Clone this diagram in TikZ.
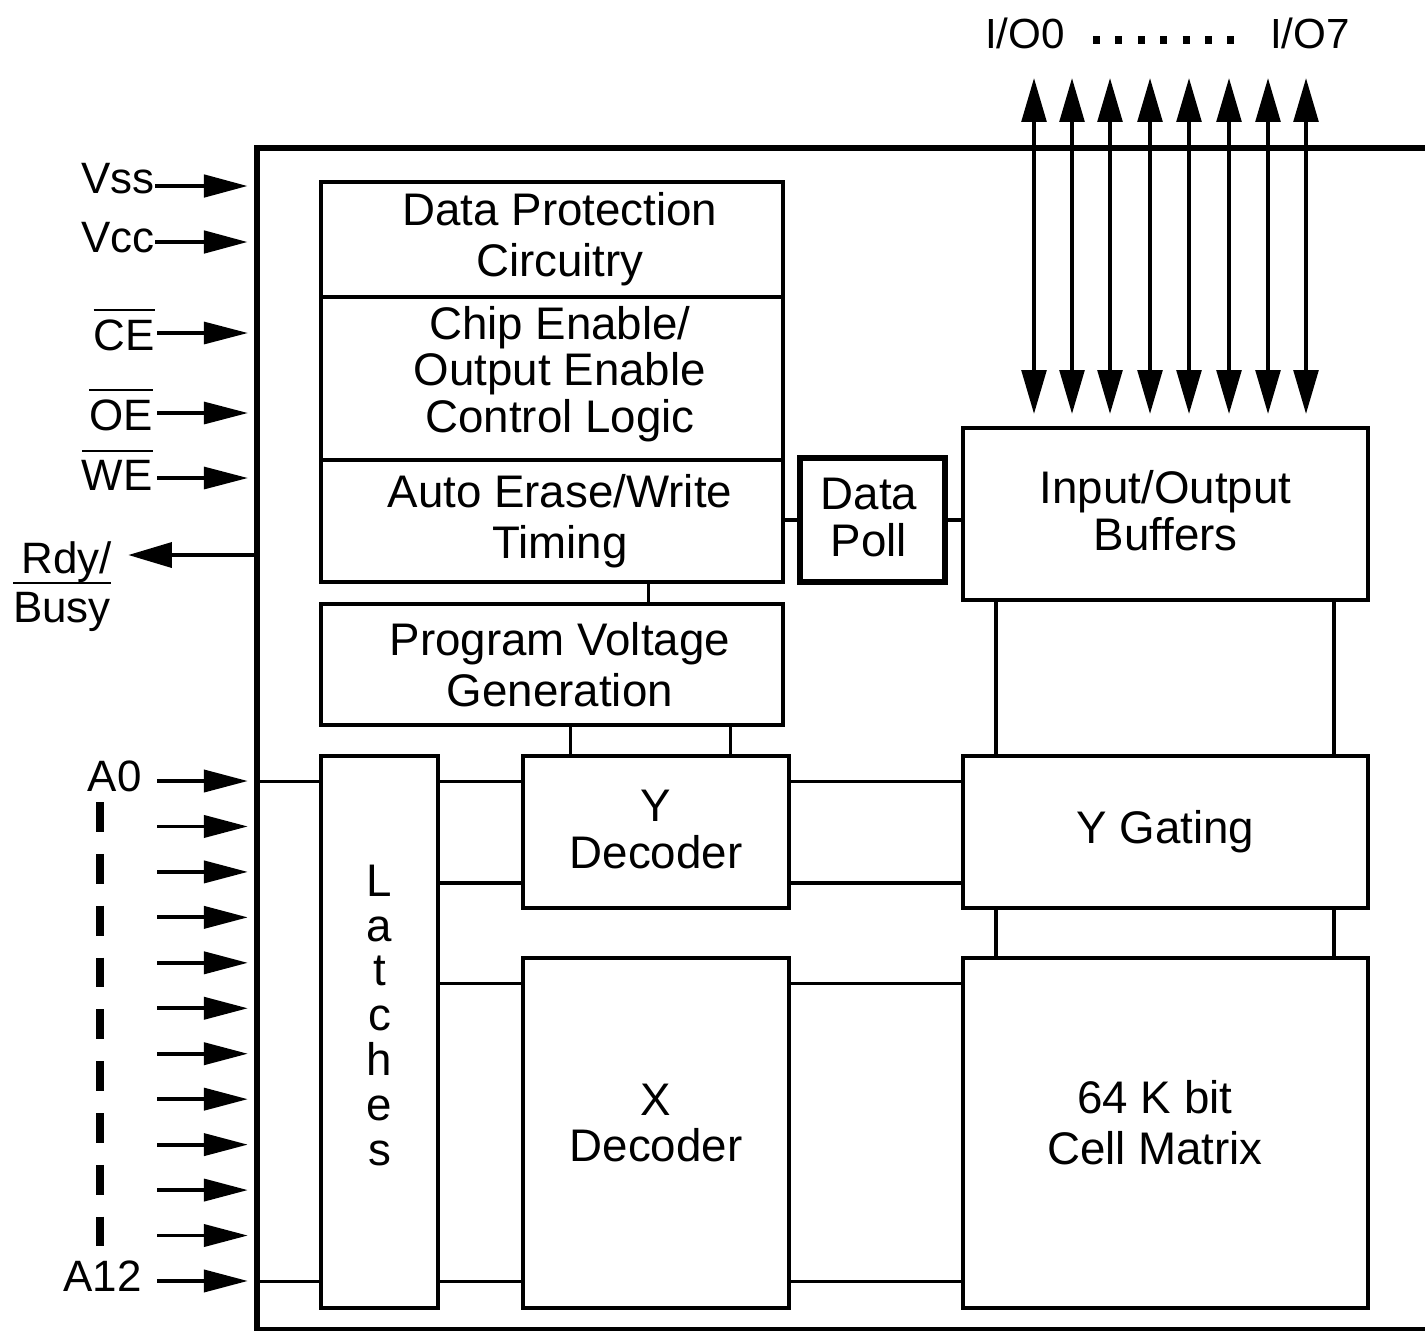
\documentclass[tikz,border=0pt]{standalone}
\usepackage{fontspec}
\setmainfont{Liberation Sans}
\usetikzlibrary{fit,arrows.meta}
\newcommand{\ovl}[1]{\vbox{\hrule height 1.2pt\kern 4.5pt\hbox{#1}}}
\newcommand{\blkA}{\fontsize{26}{29}\selectfont}
\newcommand{\blkB}{\fontsize{26}{26.6}\selectfont}
\newcommand{\latf}{\fontsize{26}{25.5}\selectfont}
\newcommand{\pinf}{\fontsize{25}{27}\selectfont}
\newcommand{\iof}{\fontsize{24}{26}\selectfont}
\begin{document}
\begin{tikzpicture}[x=0.02cm,y=-0.02cm,
  box/.style={draw,line width=2pt,inner sep=0pt},
  blk/.style={align=center,inner sep=0pt},
  wire/.style={line width=1.7pt},
  wirethick/.style={line width=2.8pt},
  pin/.style={line width=2.2pt,-{Triangle[length=25pt,width=12.5pt]},shorten >=3.5pt},
  bus/.style={line width=2.2pt,{Triangle[length=25pt,width=14pt]}-{Triangle[length=25pt,width=14pt]}},
  lab/.style={inner sep=0pt,font=\pinf}]
\useasboundingbox (0,0) rectangle (1425,1330);

% chip outline
\node[draw,line width=3.4pt,inner sep=0pt,fit={(257,148)(1500,1330)}] (chip) {};

% blocks
\node[box,fit={(321,182)(783,297)},
  label={[name=dpct,blk,font=\blkA,xshift=4.5pt]center:Data Protection\\Circuitry}] (dpc) {};
\node[box,fit={(321,297)(783,460)},
  label={[name=cect,blk,font=\blkB,xshift=4.5pt,yshift=2.5pt]center:Chip Enable/\\Output Enable\\Control Logic}] (cec) {};
\node[box,fit={(321,460)(783,582)},
  label={[name=aett,blk,font=\blkA,xshift=4.5pt]center:Auto Erase/Write\\Timing}] (aet) {};
\node[box,fit={(321,604)(783,725)},
  label={[name=pvgt,blk,font=\blkA,xshift=4.5pt]center:Program Voltage\\Generation}] (pvg) {};
\node[box,line width=3pt,fit={(800,458)(945,582)},
  label={[name=dpt,blk,font=\blkB,xshift=-2pt,yshift=1.5pt]center:Data\\Poll}] (dp) {};
\node[box,fit={(963,428)(1368,600)},
  label={[name=iobt,blk,font=\blkB,yshift=2pt]center:Input/Output\\Buffers}] (iob) {};
\node[box,fit={(963,756)(1368,908)},
  label={[name=ygtt,blk,font=\blkB]center:Y Gating}] (ygt) {};
\node[box,fit={(963,958)(1368,1308)},
  label={[name=celltxt,blk,font=\blkA,xshift=-6pt,yshift=6pt]center:64 K bit\\Cell Matrix}] (cell) {};
\node[box,fit={(321,756)(438,1308)},
  label={[name=lattxt,blk,font=\latf,yshift=9.6pt]center:L\\a\\t\\c\\h\\e\\s}] (lat) {};
\node[box,line width=2.4pt,fit={(523,756)(789,908)},
  label={[name=ydt,blk,font=\blkB,yshift=1.5pt]center:Y\\Decoder}] (ydec) {};
\node[box,line width=2.4pt,fit={(523,958)(789,1308)},
  label={[name=xdtxt,blk,font=\blkB,yshift=5.7pt]center:X\\Decoder}] (xdec) {};

% vertical connection coordinates
\coordinate (v570) at (570,0);
\coordinate (v648) at (648,0);
\coordinate (v730) at (730,0);
\coordinate (v996) at (996,0);
\coordinate (v1334) at (1334,0);
% row levels
\coordinate (L1) at (0,781);
\coordinate (L2) at (0,883);
\coordinate (L3) at (0,983);
\coordinate (L4) at (0,1281);

% internal connectors
\draw[wire] (aet.south -| v648) -- (pvg.north -| v648);
\draw[wire] (pvg.south -| v570) -- (ydec.north -| v570);
\draw[wire] (pvg.south -| v730) -- (ydec.north -| v730);
\draw[wirethick] (dp.west -| aet.east) -- (dp.west);
\draw[wirethick] (dp.east) -- (dp.east -| iob.west);
\draw[wirethick] (iob.south -| v996) -- (ygt.north -| v996);
\draw[wire,line width=2.2pt] (iob.south -| v1334) -- (ygt.north -| v1334);
\draw[wirethick] (ygt.south -| v996) -- (cell.north -| v996);
\draw[wire,line width=2.2pt] (ygt.south -| v1334) -- (cell.north -| v1334);

\draw[wire] (chip.west |- L1) -- (lat.west |- L1);
\draw[wire] (lat.east |- L1) -- (ydec.west |- L1);
\draw[wire] (ydec.east |- L1) -- (ygt.west |- L1);
\draw[wirethick] (lat.east |- L2) -- (ydec.west |- L2);
\draw[wirethick] (ydec.east |- L2) -- (ygt.west |- L2);
\draw[wire] (lat.east |- L3) -- (xdec.west |- L3);
\draw[wire] (xdec.east |- L3) -- (cell.west |- L3);
\draw[wire] (chip.west |- L4) -- (lat.west |- L4);
\draw[wire] (lat.east |- L4) -- (xdec.west |- L4);
\draw[wire] (xdec.east |- L4) -- (cell.west |- L4);

% pin labels
\node[lab,anchor=base east] (lvss) at (155,193) {Vss};
\node[lab,anchor=base east] (lvcc) at (155,252) {Vcc};
\node[lab,anchor=base east] (lce) at (155,350) {\ovl{CE}};
\node[lab,anchor=base east] (loe) at (153,430) {\ovl{OE}};
\node[lab,anchor=base east] (lwe) at (153,490) {\ovl{WE}};
\node[lab,anchor=base] (lrdy) at (67,573) {Rdy/};
\node[lab,anchor=base] (lbusy) at (62,622) {\ovl{Busy}};
\node[lab,anchor=base east] (la0) at (142,791) {A0};
\node[lab,anchor=base east] (la12) at (142,1291) {A12};

% control pins
\coordinate (pvss) at (155,186);
\coordinate (pvcc) at (155,242);
\coordinate (pce) at (157,333);
\coordinate (poe) at (157,413);
\coordinate (pwe) at (157,478);
\coordinate (rdyt) at (128,555);
\draw[pin,line width=2.8pt] (pvss) -- (pvss -| chip.west);
\draw[pin,line width=2.8pt] (pvcc) -- (pvcc -| chip.west);
\draw[pin,line width=1.8pt] (pce) -- (pce -| chip.west);
\draw[pin,line width=1.8pt] (poe) -- (poe -| chip.west);
\draw[pin,line width=1.8pt] (pwe) -- (pwe -| chip.west);
\draw[line width=2.8pt,-{Triangle[length=25pt,width=14pt]}] (chip.west |- rdyt) -- (rdyt);

% address pins
\foreach \i in {0,...,11}{
  \coordinate (pa\i) at (157,{781+\i*45.45});
  \draw[pin] (pa\i) -- (pa\i -| chip.west);
}
\coordinate (dsA) at (100,802);
\coordinate (dsB) at (100,1246);
\draw[line width=4.5pt,dash pattern=on 17pt off 12.5pt] (dsA) -- (dsB);

% I/O bus
\foreach \x [count=\k] in {1034,1072,1110,1150,1189,1229,1268,1306}{
  \coordinate (bt\k) at (\x,78);
  \draw[bus,shorten >=7pt] (bt\k) -- (bt\k |- iob.north);
}
\node[inner sep=0pt,font=\iof] (io0) at (1025,33) {I/O0};
\node[inner sep=0pt,font=\iof] (io7) at (1310,33) {I/O7};
\coordinate (dq0) at (1093,40);
\coordinate (dq1) at (1240,40);
\draw[line width=4pt,dash pattern=on 4pt off 8.75pt] (dq0) -- (dq1);
\end{tikzpicture}
\end{document}
